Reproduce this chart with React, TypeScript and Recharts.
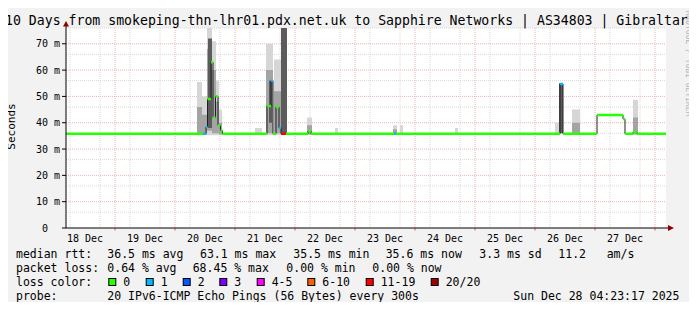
import React from 'react';
import { ComposedChart, Area, Line, XAxis, YAxis, CartesianGrid, ReferenceDot, ReferenceLine } from 'recharts';

const FONT = '"DejaVu Sans Mono", monospace';

// time axis: hours since 18 Dec 00:00 (graph covers 10 days up to 28 Dec 04:23)
const startHour = 4.4;
const endHour = 244.4;
const dayLabels = ['18 Dec', '19 Dec', '20 Dec', '21 Dec', '22 Dec', '23 Dec', '24 Dec', '25 Dec', '26 Dec', '27 Dec'];
const dayNoons = [12, 36, 60, 84, 108, 132, 156, 180, 204, 228];
const midnights = [24, 48, 72, 96, 120, 144, 168, 192, 216, 240];

const yTicks = [0, 10, 20, 30, 40, 50, 60, 70];
const yTickLabels = ['0  ', '10 m', '20 m', '30 m', '40 m', '50 m', '60 m', '70 m'];

// loss colour legend
const lossLabels = ['0', '1', '2', '3', '4-5', '6-10', '11-19', '20/20'];
const lossColors = ['#26ff00', '#00b8ff', '#0059ff', '#7e00ff', '#ff00ff', '#ff5e00', '#ff0000', '#a10000'];

// median rtt (ms) — value holds from this hour until the next one
const medianHours = [4.4, 59.2, 60.4, 61.0, 62.4, 63.2, 64.2, 65.2, 66.2, 67.0, 84.8, 86.4, 87.2, 88.4, 89.6, 90.4, 92.4, 101.2, 102.4, 135.6, 136.4, 202.0, 203.2, 216.8, 227.2, 228.0, 231.2, 232.8];
const medianMs = [35.8, 35.8, 38.4, 49, 63, 42, 50, 39, 37, 35.8, 46.4, 56, 35.8, 46, 38, 35.8, 35.8, 36.8, 35.8, 35.8, 35.8, 54.7, 35.8, 42.9, 41.4, 35.8, 36.5, 35.8];
const medianLoss = [0, 1, 1, 0, 0, 0, 0, 0, 0, 0, 0, 1, 0, 0, 1, 6, 0, 0, 0, 1, 0, 1, 0, 0, 0, 0, 0, 0];

// smoke: [from hour, to hour, low ms, high ms]
const smokeOuter = [
  [56.8, 58.8, 35.2, 55.5], [58.8, 60.8, 35.2, 50], [60.8, 62.8, 35.2, 76], [62.8, 64.4, 35.2, 71],
  [64.4, 65.6, 35.2, 56], [65.6, 66.8, 35.2, 45], [80.0, 82.8, 35.5, 38], [84.4, 87.2, 35.2, 70],
  [87.6, 90.4, 35.2, 64], [100.8, 102.8, 35.5, 42], [112.0, 113.2, 35.5, 38], [135.2, 136.8, 35.5, 39],
  [138.0, 139.2, 35.5, 39], [160.0, 161.2, 35.5, 38], [200.0, 201.6, 35.5, 40], [206.8, 210.0, 35.5, 45],
  [231.2, 233.2, 35.5, 48.7],
];
const smokeInner = [
  [56.8, 58.8, 35.5, 46], [58.8, 60.8, 35.5, 43], [60.8, 62.8, 37, 68], [62.8, 64.4, 36, 60],
  [64.4, 65.6, 36, 48], [65.6, 66.8, 35.5, 40], [84.4, 87.2, 36, 60], [87.6, 90.4, 36, 52],
  [100.8, 102.8, 35.5, 39], [135.2, 136.8, 35.5, 37.5], [206.8, 210.0, 35.5, 40], [231.2, 233.2, 35.5, 42],
];
const smokeCore = [
  [61.2, 62.8, 38, 72], [85.6, 86.8, 40, 56], [90.4, 92.8, 35.8, 76], [201.6, 203.2, 36, 55],
];

const statLines = [
  { y: 258, parts: [[16, 'median rtt:'], [107.3, '36.5 ms avg'], [200, '63.1 ms max'], [293.3, '35.5 ms min'], [385.7, '35.6 ms now'], [479.3, '3.3 ms sd'], [558.3, '11.2'], [606.7, 'am/s']] },
  { y: 272, parts: [[16, 'packet loss:'], [107.3, '0.64 % avg'], [192.7, '68.45 % max'], [286.3, '0.00 % min'], [372.3, '0.00 % now']] },
  { y: 300, parts: [[16, 'probe:'], [107.3, '20 IPv6-ICMP Echo Pings (56 Bytes) every 300s'], [513.3, 'Sun Dec 28 04:23:17 2025']] },
];
const lossBoxX = [108.3, 145.7, 182.7, 219.3, 256.7, 307.3, 365.7, 430.7];

const toBlocks = (rows: number[][]) =>
  rows.flatMap(([a, b, lo, hi]) => [
    { t: a, v: [lo, hi] },
    { t: b, v: [lo, hi] },
    { t: b, v: null },
  ]);

const medianLine = [
  ...medianHours.map((t, i) => ({ t, v: medianMs[i] })),
  { t: endHour, v: medianMs[medianMs.length - 1] },
];

const lossSegments = lossColors.map((_, c) => {
  const pts: { t: number; v: number | null }[] = [];
  medianHours.forEach((t, i) => {
    if (medianLoss[i] !== c) return;
    const next = i + 1 < medianHours.length ? medianHours[i + 1] : endHour;
    pts.push({ t, v: medianMs[i] }, { t: next, v: medianMs[i] }, { t: next, v: null });
  });
  return pts;
});

const minorY = Array.from({ length: 38 }, (_, i) => (i + 1) * 2).filter((v) => v % 10 !== 0);
const majorY = [10, 20, 30, 40, 50, 60, 70];
const minorX = Array.from({ length: 40 }, (_, i) => (i + 1) * 6).filter((v) => v % 24 !== 0);

const XTick = ({ x, y, payload }: any) => (
  <text x={x} y={y} dy={13.5} textAnchor="middle" fontFamily={FONT} fontSize={10} fill="#000">
    {dayLabels[dayNoons.indexOf(payload.value)]}
  </text>
);

const YTick = ({ x, y, payload }: any) => (
  <text x={x} y={y} dy={3.5} textAnchor="end" fontFamily={FONT} fontSize={10} fill="#000" style={{ whiteSpace: 'pre' }}>
    {yTickLabels[yTicks.indexOf(payload.value)]}
  </text>
);

const XArrow = ({ cx, cy }: any) => (
  <g>
    <line x1={cx} y1={cy} x2={cx + 2.5} y2={cy} stroke="#000" />
    <polygon points={`${cx + 2},${cy - 3} ${cx + 8},${cy} ${cx + 2},${cy + 3}`} fill="#900000" />
  </g>
);

const YArrow = ({ cx, cy }: any) => (
  <g>
    <line x1={cx} y1={cy} x2={cx} y2={cy - 2} stroke="#000" />
    <polygon points={`${cx - 3},${cy - 1.5} ${cx},${cy - 7} ${cx + 3},${cy - 1.5}`} fill="#900000" />
  </g>
);

export default function App() {
  return (
    <div style={{ position: 'relative', width: 697, height: 310, margin: -8, background: '#f2f2f2', overflow: 'hidden' }}>
      <ComposedChart width={697} height={310} margin={{ top: 28, right: 31, left: 10, bottom: 62 }}>
        <CartesianGrid fill="#ffffff" stroke="#d9d9d9" strokeDasharray="1 1" horizontalValues={minorY} verticalValues={minorX} />
        <CartesianGrid stroke="#eeb2b2" strokeDasharray="1 1" horizontalValues={majorY} verticalValues={midnights} />
        <XAxis
          type="number"
          dataKey="t"
          domain={[startHour, endHour]}
          ticks={dayNoons}
          tick={XTick}
          tickLine={false}
          tickSize={0}
          tickMargin={0}
          axisLine={{ stroke: '#000' }}
          height={20}
          allowDataOverflow
        />
        <YAxis
          type="number"
          domain={[0, 76]}
          ticks={yTicks}
          tick={YTick}
          tickLine={{ stroke: '#000' }}
          tickSize={4}
          tickMargin={2}
          axisLine={{ stroke: '#000' }}
          width={56}
          allowDataOverflow
        />
        {midnights.map((m) => (
          <ReferenceLine key={m} segment={[{ x: m, y: 0 }, { x: m, y: -1 }]} stroke="#e06a6a" ifOverflow="visible" />
        ))}
        <Area data={toBlocks(smokeOuter)} dataKey="v" type="linear" stroke="none" fill="#d6d6d6" fillOpacity={1} dot={false} activeDot={false} isAnimationActive={false} />
        <Area data={toBlocks(smokeInner)} dataKey="v" type="linear" stroke="none" fill="#a4a4a4" fillOpacity={1} dot={false} activeDot={false} isAnimationActive={false} />
        <Area data={toBlocks(smokeCore)} dataKey="v" type="linear" stroke="none" fill="#5c5c5c" fillOpacity={1} dot={false} activeDot={false} isAnimationActive={false} />
        <Line data={medianLine} dataKey="v" type="stepAfter" stroke="#202020" strokeWidth={1} dot={false} activeDot={false} isAnimationActive={false} />
        {lossSegments.map((pts, c) =>
          pts.length ? (
            <Line key={c} data={pts} dataKey="v" type="linear" stroke={lossColors[c]} strokeWidth={2.5} dot={false} activeDot={false} isAnimationActive={false} />
          ) : null
        )}
        <ReferenceDot x={endHour} y={0} r={0} ifOverflow="visible" shape={XArrow} />
        <ReferenceDot x={startHour} y={76} r={0} ifOverflow="visible" shape={YArrow} />
      </ComposedChart>
      <svg width={697} height={310} style={{ position: 'absolute', left: 0, top: 0, pointerEvents: 'none' }} fontFamily={FONT}>
        <text x={5} y={24.5} fontSize={13.2} fill="#000" style={{ whiteSpace: 'pre' }}>
          10 Days from smokeping-thn-lhr01.pdx.net.uk to Sapphire Networks | AS34803 | Gibraltar
        </text>
        <text transform="translate(15,126.5) rotate(-90)" textAnchor="middle" fontSize={11} fill="#000">
          Seconds
        </text>
        <text transform="translate(686,63.5) rotate(90)" textAnchor="middle" fontSize={8} fill="#b4b4b4">
          RRDTOOL / TOBI OETIKER
        </text>
        {statLines.map((line) =>
          line.parts.map(([x, s]) => (
            <text key={`${line.y}-${x}`} x={x as number} y={line.y} fontSize={11.5} fill="#000" style={{ whiteSpace: 'pre' }}>
              {s}
            </text>
          ))
        )}
        <text x={16} y={286} fontSize={11.5} fill="#000">loss color:</text>
        {lossLabels.map((l, i) => (
          <g key={l}>
            <rect x={lossBoxX[i] + 0.5} y={278.5} width={7} height={7} fill={lossColors[i]} stroke="#000" />
            <text x={lossBoxX[i] + 15} y={286} fontSize={11.5} fill="#000">{l}</text>
          </g>
        ))}
        <rect x={694} y={0} width={3} height={310} fill="#a0a0a0" />
        <rect x={0} y={307} width={697} height={3} fill="#a0a0a0" />
      </svg>
    </div>
  );
}
